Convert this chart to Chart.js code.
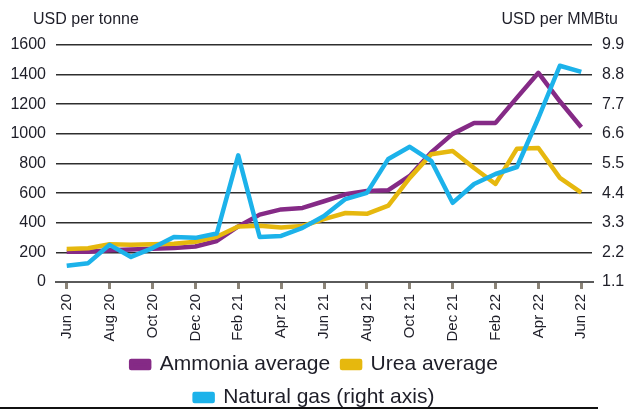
<!DOCTYPE html>
<html>
<head>
<meta charset="utf-8">
<script src="https://cdn.jsdelivr.net/npm/chart.js@4/dist/chart.umd.min.js"></script>
<style>
  html, body { margin: 0; padding: 0; background: #fff; overflow: hidden; }
  #wrap { width: 628px; height: 409px; position: relative; }
</style>
</head>
<body>
<div id="wrap"><canvas id="c" width="628" height="409"></canvas></div>
<script>
const months = ['Jun 20','Jul 20','Aug 20','Sep 20','Oct 20','Nov 20','Dec 20','Jan 21','Feb 21','Mar 21','Apr 21','May 21','Jun 21','Jul 21','Aug 21','Sep 21','Oct 21','Nov 21','Dec 21','Jan 22','Feb 22','Mar 22','Apr 22','May 22','Jun 22'];
const ammonia = [205, 205, 215, 220, 225, 230, 240, 277, 375, 455, 490, 500, 545, 592, 615, 620, 716, 875, 1000, 1074, 1074, 1245, 1412, 1220, 1045];
const urea = [222, 228, 255, 252, 255, 258, 272, 305, 375, 380, 368, 378, 425, 466, 460, 515, 703, 862, 885, 770, 662, 900, 905, 703, 603];
const naturalGas = [1.70, 1.80, 2.48, 2.03, 2.36, 2.77, 2.74, 2.90, 5.80, 2.77, 2.81, 3.11, 3.55, 4.18, 4.41, 5.67, 6.12, 5.60, 4.04, 4.74, 5.11, 5.37, 7.19, 9.13, 8.90];
const leftTicks = [0, 200, 400, 600, 800, 1000, 1200, 1400, 1600];
const rightTicks = [1.1, 2.2, 3.3, 4.4, 5.5, 6.6, 7.7, 8.8, 9.9];
const leftTitle = 'USD per tonne';
const rightTitle = 'USD per MMBtu';

const FONT = "'Liberation Sans', Arial, sans-serif";
const TXT = '#1e1e28';

const extras = {
  id: 'extras',
  afterDraw(chart) {
    const ctx = chart.ctx;
    ctx.save();
    ctx.fillStyle = TXT;
    ctx.font = '16px ' + FONT;
    ctx.textBaseline = 'alphabetic';
    ctx.textAlign = 'left';
    ctx.fillText(leftTitle, 33, 24);
    ctx.textAlign = 'right';
    ctx.fillText(rightTitle, 618, 24);
    ctx.fillStyle = '#111';
    ctx.fillRect(0, 407, 598, 2);
    ctx.restore();
  }
};

new Chart(document.getElementById('c'), {
  type: 'line',
  data: {
    labels: months,
    datasets: [
      { label: 'Ammonia average', data: ammonia, borderColor: '#852a86', backgroundColor: '#852a86', yAxisID: 'y', order: 2 },
      { label: 'Urea average', data: urea, borderColor: '#e6b80e', backgroundColor: '#e6b80e', yAxisID: 'y', order: 1 },
      { label: 'Natural gas (right axis)', data: naturalGas, borderColor: '#1cb2ea', backgroundColor: '#1cb2ea', yAxisID: 'y1', order: 0 }
    ]
  },
  options: {
    responsive: false,
    animation: false,
    devicePixelRatio: 1,
    layout: { padding: { top: 45, left: 3, right: 2, bottom: -9 } },
    elements: {
      line: { borderWidth: 4.5, tension: 0, borderJoinStyle: 'round', borderCapStyle: 'butt' },
      point: { radius: 0, hoverRadius: 0 }
    },
    plugins: {
      legend: {
        position: 'bottom',
        labels: {
          boxWidth: 18, boxHeight: 7, padding: 12,
          color: TXT,
          font: { family: FONT, size: 21 },
          sort: (a, b) => a.datasetIndex - b.datasetIndex
        }
      },
      tooltip: { enabled: false }
    },
    scales: {
      x: {
        type: 'category',
        offset: true,
        grid: {
          offset: false,
          drawOnChartArea: false,
          drawTicks: true,
          tickLength: 7,
          lineWidth: 3,
          color: (c) => (c.index % 2 === 0 ? '#8b8478' : 'rgba(0,0,0,0)')
        },
        border: { display: true, color: '#5a5a5a', width: 2 },
        ticks: {
          autoSkip: false,
          minRotation: 90, maxRotation: 90,
          padding: 5,
          color: TXT,
          font: { family: FONT, size: 15 },
          callback: function (v, i) { return i % 2 === 0 ? months[i] : ''; }
        },
        afterFit: (s) => { s.height = 60; }
      },
      y: {
        position: 'left',
        min: 0, max: 1600,
        afterBuildTicks: (s) => { s.ticks = leftTicks.map(v => ({ value: v })); },
        grid: {
          drawTicks: false,
          lineWidth: 1.6,
          color: (c) => (c.tick && c.tick.value === 0 ? '#5a5a5a' : '#2e2e2e')
        },
        border: { display: false },
        ticks: {
          padding: 10,
          color: TXT,
          font: { family: FONT, size: 16 },
          callback: (v) => String(v)
        },
        afterFit: (s) => { s.width = 53; }
      },
      y1: {
        position: 'right',
        min: 1.1, max: 9.9,
        afterBuildTicks: (s) => { s.ticks = rightTicks.map(v => ({ value: v })); },
        grid: { display: false, drawTicks: false },
        border: { display: false },
        ticks: {
          padding: 10,
          color: TXT,
          font: { family: FONT, size: 16 },
          callback: (v) => Number(v).toFixed(1)
        },
        afterFit: (s) => { s.width = 34; }
      }
    }
  },
  plugins: [extras]
});
</script>
</body>
</html>
